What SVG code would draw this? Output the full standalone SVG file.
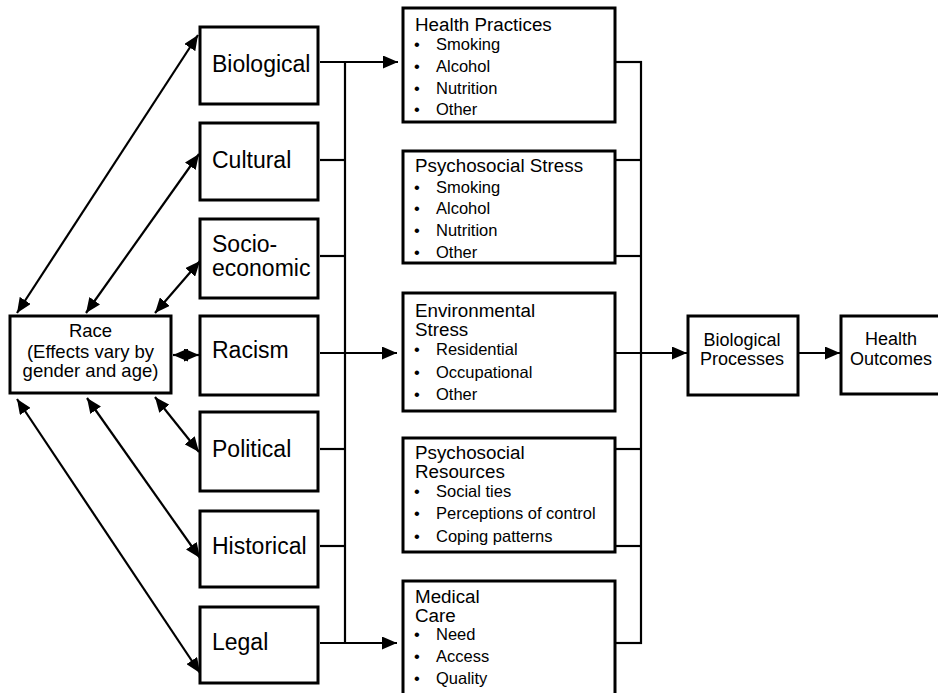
<svg xmlns="http://www.w3.org/2000/svg" width="938" height="693" viewBox="0 0 938 693">
<style>
.box{fill:#fff;stroke:#000;stroke-width:3}
.ln{fill:none;stroke:#000;stroke-width:2.2}
.t{font-family:"Liberation Sans",Arial,sans-serif;fill:#000}
.big{font-size:23px}
.mid{font-size:18.8px}
.sm{font-size:16.5px}
.race{font-size:18.5px;text-anchor:middle}
.bp{font-size:18px;text-anchor:middle}
</style>
<defs>
<marker id="ah" markerUnits="userSpaceOnUse" markerWidth="16" markerHeight="13" refX="15" refY="6.5" orient="auto-start-reverse" viewBox="0 0 16 13">
<path d="M0,0 L15,6.5 L0,13 z" fill="#000"/>
</marker>
</defs>
<rect width="938" height="693" fill="#fff"/>

<g id="race">
<rect class="box" x="10" y="316" width="161" height="77"/>
<text class="t race" x="90.5" y="337">Race</text>
<text class="t race" x="90.5" y="358">(Effects vary by</text>
<text class="t race" x="90.5" y="377">gender and age)</text>
</g>

<g id="biological">
<rect class="box" x="200" y="27" width="118" height="77"/>
<text class="t big" x="212" y="72">Biological</text>
</g>
<g id="cultural">
<rect class="box" x="200" y="123" width="118" height="77"/>
<text class="t big" x="212" y="168">Cultural</text>
</g>
<g id="socioeconomic">
<rect class="box" x="200" y="219" width="118" height="79"/>
<text class="t big" x="212" y="251.5">Socio-</text>
<text class="t big" x="212" y="276">economic</text>
</g>
<g id="racism">
<rect class="box" x="200" y="316" width="118" height="79"/>
<text class="t big" x="212" y="358">Racism</text>
</g>
<g id="political">
<rect class="box" x="200" y="412" width="118" height="79"/>
<text class="t big" x="212" y="457">Political</text>
</g>
<g id="historical">
<rect class="box" x="200" y="511" width="118" height="76"/>
<text class="t big" x="212" y="554">Historical</text>
</g>
<g id="legal">
<rect class="box" x="200" y="607" width="118" height="76"/>
<text class="t big" x="212" y="650">Legal</text>
</g>

<g id="health-practices">
<rect class="box" x="403" y="8" width="212" height="114"/>
<text class="t mid" x="415" y="31">Health Practices</text>
<text class="t sm" x="414" y="49.5">•</text><text class="t sm" x="436" y="49.5">Smoking</text>
<text class="t sm" x="414" y="71.5">•</text><text class="t sm" x="436" y="71.5">Alcohol</text>
<text class="t sm" x="414" y="93.5">•</text><text class="t sm" x="436" y="93.5">Nutrition</text>
<text class="t sm" x="414" y="115">•</text><text class="t sm" x="436" y="115">Other</text>
</g>
<g id="psychosocial-stress">
<rect class="box" x="403" y="151" width="212" height="112"/>
<text class="t mid" x="415" y="172">Psychosocial Stress</text>
<text class="t sm" x="414" y="192.5">•</text><text class="t sm" x="436" y="192.5">Smoking</text>
<text class="t sm" x="414" y="214">•</text><text class="t sm" x="436" y="214">Alcohol</text>
<text class="t sm" x="414" y="236">•</text><text class="t sm" x="436" y="236">Nutrition</text>
<text class="t sm" x="414" y="258">•</text><text class="t sm" x="436" y="258">Other</text>
</g>
<g id="environmental-stress">
<rect class="box" x="403" y="293" width="212" height="118"/>
<text class="t mid" x="415" y="317">Environmental</text>
<text class="t mid" x="415" y="336">Stress</text>
<text class="t sm" x="414" y="355">•</text><text class="t sm" x="436" y="355">Residential</text>
<text class="t sm" x="414" y="377.5">•</text><text class="t sm" x="436" y="377.5">Occupational</text>
<text class="t sm" x="414" y="399.5">•</text><text class="t sm" x="436" y="399.5">Other</text>
</g>
<g id="psychosocial-resources">
<rect class="box" x="403" y="438" width="212" height="114"/>
<text class="t mid" x="415" y="458.5">Psychosocial</text>
<text class="t mid" x="415" y="477.5">Resources</text>
<text class="t sm" x="414" y="497">•</text><text class="t sm" x="436" y="497">Social ties</text>
<text class="t sm" x="414" y="519">•</text><text class="t sm" x="436" y="519">Perceptions of control</text>
<text class="t sm" x="414" y="541.5">•</text><text class="t sm" x="436" y="541.5">Coping patterns</text>
</g>
<g id="medical-care">
<rect class="box" x="403" y="581" width="212" height="120"/>
<text class="t mid" x="415" y="603">Medical</text>
<text class="t mid" x="415" y="622">Care</text>
<text class="t sm" x="414" y="639.5">•</text><text class="t sm" x="436" y="639.5">Need</text>
<text class="t sm" x="414" y="662">•</text><text class="t sm" x="436" y="662">Access</text>
<text class="t sm" x="414" y="684">•</text><text class="t sm" x="436" y="684">Quality</text>
</g>

<g id="biological-processes">
<rect class="box" x="688" y="316" width="110" height="79"/>
<text class="t bp" x="742" y="346">Biological</text>
<text class="t bp" x="742" y="364.5">Processes</text>
</g>
<g id="health-outcomes">
<rect class="box" x="841" y="316" width="102" height="78"/>
<text class="t bp" x="891" y="345">Health</text>
<text class="t bp" x="891" y="364.5">Outcomes</text>
</g>

<g id="connectors">
<line class="ln" x1="17" y1="313" x2="198" y2="35" marker-start="url(#ah)" marker-end="url(#ah)"/>
<line class="ln" x1="86" y1="313" x2="199" y2="154" marker-start="url(#ah)" marker-end="url(#ah)"/>
<line class="ln" x1="155" y1="313" x2="200" y2="261" marker-start="url(#ah)" marker-end="url(#ah)"/>
<line class="ln" x1="173" y1="355" x2="199" y2="355" marker-start="url(#ah)" marker-end="url(#ah)"/>
<line class="ln" x1="155" y1="397" x2="199" y2="452" marker-start="url(#ah)" marker-end="url(#ah)"/>
<line class="ln" x1="87" y1="398" x2="200" y2="558" marker-start="url(#ah)" marker-end="url(#ah)"/>
<line class="ln" x1="17" y1="399" x2="200" y2="673" marker-start="url(#ah)" marker-end="url(#ah)"/>
<line class="ln" x1="345" y1="61" x2="345" y2="644"/>
<line class="ln" x1="320" y1="62" x2="398" y2="62" marker-end="url(#ah)"/>
<line class="ln" x1="320" y1="160" x2="345" y2="160"/>
<line class="ln" x1="320" y1="256" x2="345" y2="256"/>
<line class="ln" x1="320" y1="353" x2="397" y2="353" marker-end="url(#ah)"/>
<line class="ln" x1="320" y1="449" x2="345" y2="449"/>
<line class="ln" x1="320" y1="546" x2="345" y2="546"/>
<line class="ln" x1="320" y1="643" x2="397" y2="643" marker-end="url(#ah)"/>
<line class="ln" x1="641" y1="61" x2="641" y2="644"/>
<line class="ln" x1="616" y1="62" x2="642" y2="62"/>
<line class="ln" x1="616" y1="160" x2="641" y2="160"/>
<line class="ln" x1="616" y1="256" x2="641" y2="256"/>
<line class="ln" x1="616" y1="353" x2="687" y2="353" marker-end="url(#ah)"/>
<line class="ln" x1="616" y1="449" x2="641" y2="449"/>
<line class="ln" x1="616" y1="546" x2="641" y2="546"/>
<line class="ln" x1="616" y1="643" x2="642" y2="643"/>
<line class="ln" x1="799" y1="353" x2="840" y2="353" marker-end="url(#ah)"/>
</g>
</svg>
